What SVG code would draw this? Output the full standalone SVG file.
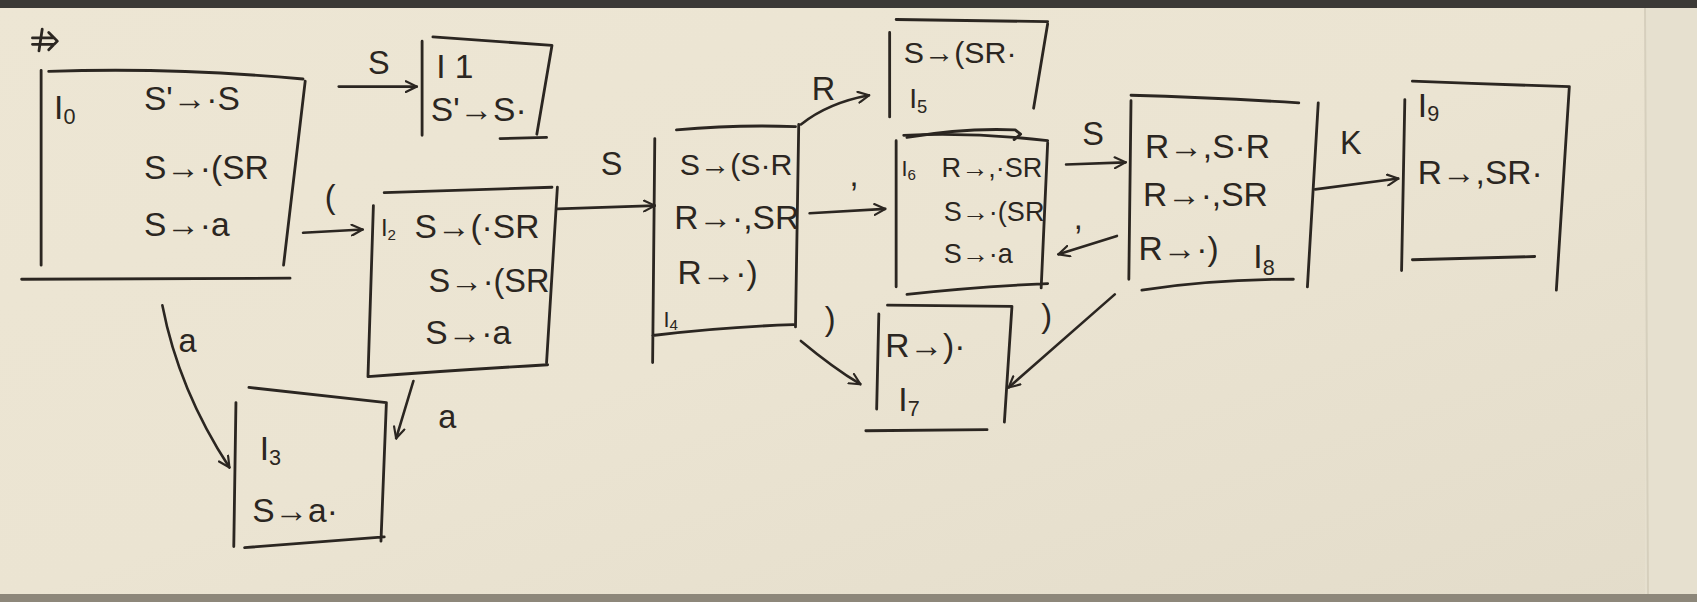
<svg xmlns="http://www.w3.org/2000/svg" width="1697" height="602" viewBox="0 0 1697 602">
<defs>
<linearGradient id="paper" x1="0" y1="0" x2="1" y2="1">
<stop offset="0" stop-color="#ede6d4"/>
<stop offset="0.5" stop-color="#ebe4d2"/>
<stop offset="1" stop-color="#e3dcca"/>
</linearGradient>
<marker id="ah" viewBox="0 0 12 12" refX="11" refY="6" markerWidth="12" markerHeight="12" markerUnits="userSpaceOnUse" orient="auto">
<path d="M1,1 L11,6 L1,11" fill="none" stroke="#2b2621" stroke-width="2" stroke-linecap="round"/>
</marker>
<style>
.ln{fill:none;stroke:#2b2621;stroke-width:2.6;stroke-linecap:round;stroke-linejoin:round}
.cn{fill:none;stroke:#2b2621;stroke-width:2.4;stroke-linecap:round;marker-end:url(#ah)}
.t{font-family:"Liberation Sans",Arial,sans-serif;font-size:31px;fill:#2b2621}
.s{font-size:20px}
.lb{font-family:"Liberation Sans",Arial,sans-serif;font-size:30px;fill:#2b2621}
</style>
</defs>
<rect width="1697" height="602" fill="url(#paper)"/>
<rect x="0" y="0" width="1697" height="8" fill="#3b3936"/>
<rect x="0" y="594" width="1697" height="8" fill="#8d877a"/>
<rect x="1645" y="8" width="52" height="586" fill="#e6e0cf"/>
<line x1="1645" y1="8" x2="1648" y2="594" stroke="#d6cfbd" stroke-width="2"/>
<g transform="scale(1.0823)">
<g id="start">
<path class="ln" d="M30,35 L50,35 M30,41 L50,41 M45,30 L53,38 L45,46 M39,27 L36,47" stroke-width="2"/>
</g>
<g id="I0">
<path class="ln" d="M38,65 L38,245 M45,66 Q160,62 280,73 M282,75 L262,245 M20,258 L268,257"/>
<text class="t" x="50" y="110">I<tspan class="s" dy="5">0</tspan></text>
<text class="t" x="133" y="102">S'→·S</text>
<text class="t" x="133" y="165">S→·(SR</text>
<text class="t" x="133" y="218">S→·a</text>
</g>
<g id="I1">
<path class="ln" d="M390,38 L390,125 M400,34 L510,42 M510,42 L496,124 M462,128 L505,127"/>
<text class="t" x="403" y="72">I 1</text>
<text class="t" x="398" y="112">S'→S·</text>
</g>
<g id="I2">
<path class="ln" d="M345,190 L340,348 M355,178 L510,173 M515,173 L505,335 M340,348 Q420,342 506,337"/>
<text class="t" x="352" y="218" style="font-size:22px">I<tspan style="font-size:14px" dy="4">2</tspan></text>
<text class="t" x="383" y="220">S→(·SR</text>
<text class="t" x="396" y="270" style="font-size:30px">S→·(SR</text>
<text class="t" x="393" y="318">S→·a</text>
</g>
<g id="I3">
<path class="ln" d="M218,372 L216,505 M230,358 L357,372 M357,372 L352,500 M226,506 L355,496"/>
<text class="t" x="240" y="425">I<tspan class="s" dy="5">3</tspan></text>
<text class="t" x="233" y="482">S→a·</text>
</g>
<g id="I4">
<path class="ln" d="M605,128 L603,335 M625,120 Q680,115 735,117 M738,115 L735,302 M603,310 Q670,302 733,300"/>
<text class="t" x="628" y="162" style="font-size:28px">S→(S·R</text>
<text class="t" x="623" y="212">R→·,SR</text>
<text class="t" x="626" y="262">R→·)</text>
<text class="t" x="613" y="302" style="font-size:20px">I<tspan style="font-size:14px" dy="3">4</tspan></text>
</g>
<g id="I5">
<path class="ln" d="M822,30 L822,108 M828,18 L968,20 M968,22 L955,100"/>
<text class="t" x="835" y="58" style="font-size:28px">S→(SR·</text>
<text class="t" x="840" y="100" style="font-size:26px">I<tspan style="font-size:17px" dy="4">5</tspan></text>
</g>
<g id="I6">
<path class="ln" d="M828,130 L828,265 M835,125 Q900,122 968,130 M968,132 L962,266 M838,272 Q900,265 968,262"/>
<text class="t" x="833" y="163" style="font-size:20px">I<tspan style="font-size:14px" dy="3">6</tspan></text>
<text class="t" x="870" y="164" style="font-size:25px">R→,·SR</text>
<text class="t" x="872" y="204" style="font-size:25px">S→·(SR</text>
<text class="t" x="872" y="243" style="font-size:25px">S→·a</text>
</g>
<g id="I7">
<path class="ln" d="M812,290 L810,378 M820,282 L935,283 M935,283 L928,390 M800,398 L912,397"/>
<text class="t" x="818" y="330">R→)·</text>
<text class="t" x="830" y="380">I<tspan class="s" dy="4">7</tspan></text>
</g>
<g id="I8">
<path class="ln" d="M1045,93 L1043,258 M1045,88 Q1120,90 1200,95 M1218,95 L1208,265 M1055,268 Q1120,258 1195,258"/>
<text class="t" x="1058" y="146">R→,S·R</text>
<text class="t" x="1056" y="190">R→·,SR</text>
<text class="t" x="1052" y="240">R→·)</text>
<text class="t" x="1158" y="248">I<tspan class="s" dy="6">8</tspan></text>
</g>
<g id="I9">
<path class="ln" d="M1298,92 L1295,250 M1305,75 Q1380,78 1450,80 M1450,80 L1438,268 M1305,240 L1418,237"/>
<text class="t" x="1310" y="108">I<tspan class="s" dy="4">9</tspan></text>
<text class="t" x="1310" y="170">R→,SR·</text>
</g>
<g id="connectors">
<path class="cn" d="M313,80 L385,80"/>
<text class="lb" x="340" y="68">S</text>
<path class="cn" d="M280,215 L335,212"/>
<text class="lb" x="300" y="192">(</text>
<path class="cn" d="M150,282 Q165,360 212,432"/>
<text class="lb" x="165" y="325">a</text>
<path class="cn" d="M382,352 L366,405"/>
<text class="lb" x="405" y="395">a</text>
<path class="cn" d="M515,193 L605,190"/>
<text class="lb" x="555" y="162">S</text>
<path class="cn" d="M740,115 Q765,95 803,88"/>
<text class="lb" x="750" y="92">R</text>
<path class="cn" d="M748,197 L818,193"/>
<text class="lb" x="785" y="172">,</text>
<path class="cn" d="M740,315 Q770,340 795,355"/>
<text class="lb" x="762" y="305">)</text>
<path class="cn" d="M985,152 L1040,150"/>
<text class="lb" x="1000" y="134">S</text>
<path class="cn" d="M1032,218 L978,235"/>
<text class="lb" x="992" y="212">,</text>
<path class="cn" d="M1030,272 L932,358"/>
<text class="lb" x="962" y="302">)</text>
<path class="cn" d="M1215,175 L1292,165"/>
<text class="lb" x="1238" y="142">K</text>
<path class="ln" d="M838,127 Q890,118 938,120 L943,124 L937,129"/>
</g>
</g>
</svg>
